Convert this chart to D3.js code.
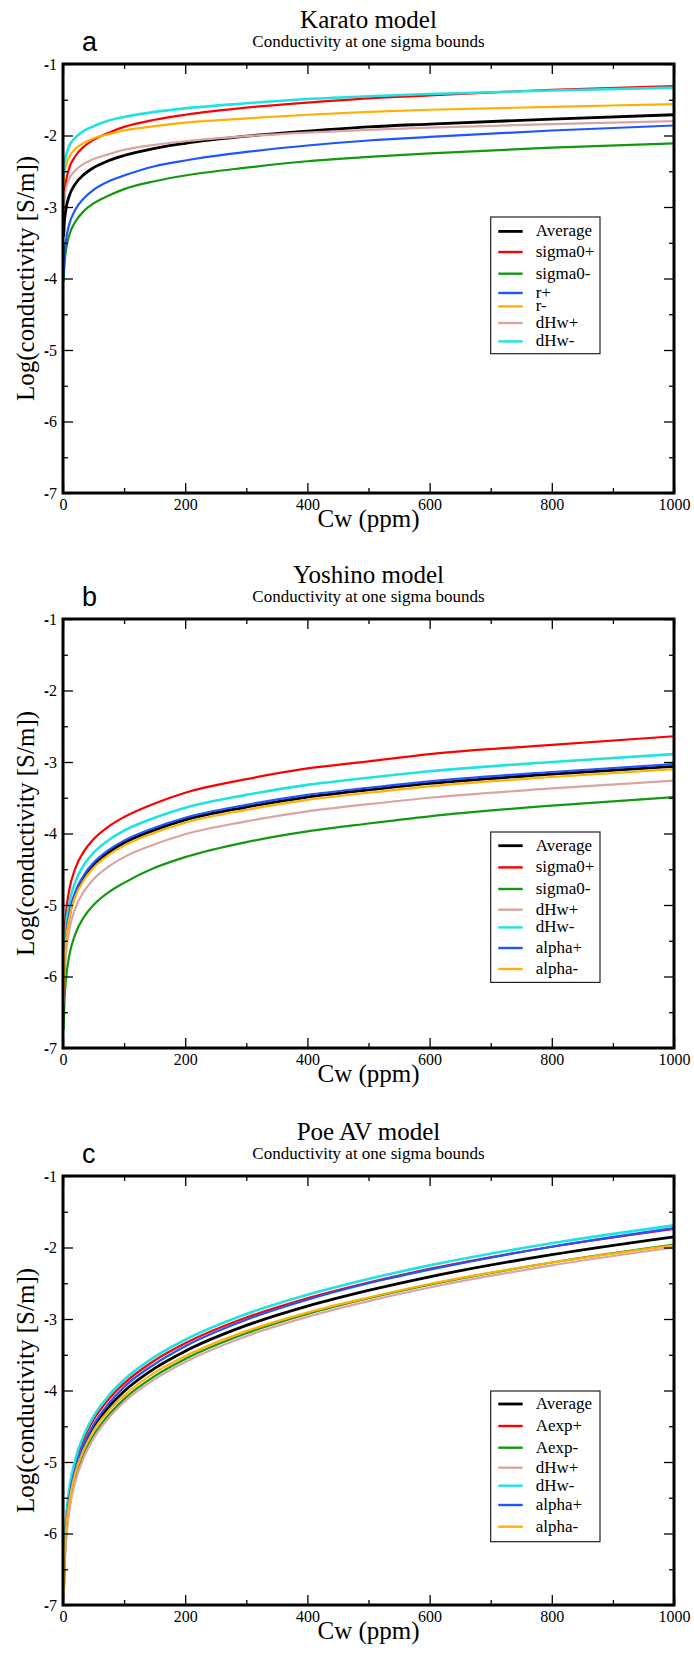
<!DOCTYPE html>
<html><head><meta charset="utf-8">
<script src="https://cdn.jsdelivr.net/npm/d3@7"></script>
<style>body{margin:0;background:#fff}</style>
</head><body>
<svg id="chart" width="694" height="1653"></svg>
<script>
// ---------- DATA ----------
const cw = [1, 2, 5, 10, 20, 35, 50, 75, 100, 150, 200, 300, 400, 500, 600, 800, 1000];
const xTicks = [0, 200, 400, 600, 800, 1000];
const xMinorTicks = [100, 300, 500, 700, 900];
const yTicks = [-1, -2, -3, -4, -5, -6, -7];
const yMinorTicks = [-1.5, -2.5, -3.5, -4.5, -5.5, -6.5];
const panelLetters = ["a", "b", "c"];
const panelTitles = ["Karato model", "Yoshino model", "Poe AV model"];
const subtitle = "Conductivity at one sigma bounds";
const xLabel = "Cw (ppm)";
const yLabel = "Log(conductivity [S/m])";

// Karato model
const karatoNames = ["Average", "sigma0+", "sigma0-", "r+", "r-", "dHw+", "dHw-"];
const karatoAverage = [-3.41,-3.24,-3.02,-2.85,-2.68,-2.54,-2.45,-2.35,-2.28,-2.18,-2.11,-2.01,-1.94,-1.88,-1.84,-1.77,-1.71];
const karatoSigma0Plus = [-3.04,-2.86,-2.64,-2.46,-2.29,-2.15,-2.06,-1.96,-1.88,-1.78,-1.71,-1.61,-1.54,-1.48,-1.44,-1.36,-1.31];
const karatoSigma0Minus = [-4.05,-3.86,-3.60,-3.40,-3.21,-3.05,-2.95,-2.84,-2.75,-2.64,-2.56,-2.45,-2.36,-2.30,-2.25,-2.17,-2.11];
const karatoRPlus = [-3.94,-3.73,-3.46,-3.25,-3.04,-2.87,-2.76,-2.64,-2.56,-2.43,-2.35,-2.23,-2.14,-2.07,-2.02,-1.93,-1.86];
const karatoRMinus = [-2.68,-2.56,-2.42,-2.30,-2.19,-2.10,-2.04,-1.98,-1.93,-1.87,-1.82,-1.76,-1.71,-1.67,-1.64,-1.60,-1.56];
const karatoDHwPlus = [-3.02,-2.90,-2.74,-2.61,-2.49,-2.39,-2.33,-2.26,-2.20,-2.13,-2.08,-2.01,-1.96,-1.92,-1.89,-1.84,-1.80];
const karatoDHwMinus = [-2.57,-2.44,-2.28,-2.15,-2.03,-1.93,-1.87,-1.79,-1.74,-1.67,-1.62,-1.55,-1.49,-1.45,-1.42,-1.37,-1.33];

// Yoshino model
const yoshinoNames = ["Average", "sigma0+", "sigma0-", "dHw+", "dHw-", "alpha+", "alpha-"];
const yoshinoAverage = [-6.18,-5.87,-5.47,-5.16,-4.85,-4.60,-4.44,-4.26,-4.13,-3.95,-3.81,-3.63,-3.49,-3.39,-3.30,-3.17,-3.06];
const yoshinoSigma0Plus = [-5.82,-5.51,-5.11,-4.80,-4.49,-4.24,-4.08,-3.90,-3.77,-3.58,-3.43,-3.24,-3.09,-2.99,-2.89,-2.76,-2.64];
const yoshinoSigma0Minus = [-6.74,-6.43,-6.03,-5.72,-5.41,-5.16,-5.00,-4.82,-4.69,-4.48,-4.33,-4.12,-3.97,-3.86,-3.76,-3.61,-3.49];
const yoshinoDHwPlus = [-6.38,-6.07,-5.67,-5.36,-5.05,-4.80,-4.64,-4.46,-4.33,-4.15,-4.01,-3.83,-3.69,-3.59,-3.50,-3.37,-3.26];
const yoshinoDHwMinus = [-6.01,-5.70,-5.30,-4.99,-4.68,-4.43,-4.27,-4.09,-3.96,-3.78,-3.64,-3.46,-3.32,-3.22,-3.13,-3.00,-2.89];
const yoshinoAlphaPlus = [-6.15,-5.84,-5.44,-5.13,-4.82,-4.57,-4.41,-4.23,-4.10,-3.92,-3.78,-3.60,-3.46,-3.36,-3.27,-3.14,-3.03];
const yoshinoAlphaMinus = [-6.22,-5.91,-5.51,-5.20,-4.89,-4.64,-4.48,-4.30,-4.17,-3.99,-3.85,-3.67,-3.53,-3.43,-3.34,-3.21,-3.10];

// Poe AV model
const poeNames = ["Average", "Aexp+", "Aexp-", "dHw+", "dHw-", "alpha+", "alpha-"];
const poeAverage = [-6.80,-6.45,-5.95,-5.55,-5.13,-4.77,-4.52,-4.23,-4.01,-3.69,-3.45,-3.09,-2.82,-2.60,-2.41,-2.10,-1.85];
const poeAexpPlus = [-6.69,-6.34,-5.84,-5.44,-5.02,-4.66,-4.41,-4.12,-3.90,-3.58,-3.34,-2.98,-2.71,-2.49,-2.30,-1.99,-1.74];
const poeAexpMinus = [-6.91,-6.56,-6.06,-5.66,-5.24,-4.88,-4.63,-4.34,-4.12,-3.80,-3.56,-3.20,-2.93,-2.71,-2.52,-2.21,-1.96];
const poeDHwPlus = [-6.95,-6.60,-6.10,-5.70,-5.28,-4.92,-4.67,-4.38,-4.16,-3.84,-3.60,-3.24,-2.97,-2.75,-2.56,-2.25,-2.00];
const poeDHwMinus = [-6.64,-6.29,-5.79,-5.39,-4.97,-4.61,-4.36,-4.07,-3.85,-3.53,-3.29,-2.93,-2.66,-2.44,-2.25,-1.94,-1.69];
const poeAlphaPlus = [-6.79,-6.44,-5.93,-5.52,-5.10,-4.73,-4.48,-4.18,-3.95,-3.63,-3.38,-3.01,-2.73,-2.50,-2.31,-1.99,-1.73];
const poeAlphaMinus = [-6.81,-6.47,-5.97,-5.58,-5.16,-4.81,-4.56,-4.28,-4.07,-3.75,-3.52,-3.17,-2.91,-2.70,-2.51,-2.21,-1.97];

// ---------- STYLE / LAYOUT ----------
const C = {black:"#000000", red:"#ff0000", green:"#12990f", blue:"#1f55ff", orange:"#ffb000", pink:"#d9a4a4", cyan:"#1fe3e3"};
const panels = [
  {names: karatoNames,
   values: [karatoAverage, karatoSigma0Plus, karatoSigma0Minus, karatoRPlus, karatoRMinus, karatoDHwPlus, karatoDHwMinus],
   colors: [C.black, C.red, C.green, C.blue, C.orange, C.pink, C.cyan],
   legendOffset: 153, legendRows: [14.4, 35, 56.7, 76, 89.4, 106, 124.4], legendH: 136.7},
  {names: yoshinoNames,
   values: [yoshinoAverage, yoshinoSigma0Plus, yoshinoSigma0Minus, yoshinoDHwPlus, yoshinoDHwMinus, yoshinoAlphaPlus, yoshinoAlphaMinus],
   colors: [C.black, C.red, C.green, C.pink, C.cyan, C.blue, C.orange],
   legendOffset: 213, legendRows: [13.7, 35.4, 57, 77.7, 95.4, 116, 137], legendH: 150.4},
  {names: poeNames,
   values: [poeAverage, poeAexpPlus, poeAexpMinus, poeDHwPlus, poeDHwMinus, poeAlphaPlus, poeAlphaMinus],
   colors: [C.black, C.red, C.green, C.pink, C.cyan, C.blue, C.orange],
   legendOffset: 215, legendRows: [13, 35, 56.7, 76.7, 94.7, 114, 135.7], legendH: 150.7}
];
const left = 63, right = 674, tops = [64, 619, 1176], plotH = 429;
const serif = "'Liberation Serif','Times New Roman',Times,serif";
const sans = "'Liberation Sans',Arial,Helvetica,sans-serif";

const svg = d3.select("#chart");
svg.append("rect").attr("width",694).attr("height",1653).attr("fill","#fff");

panels.forEach((p, i) => {
  const top = tops[i], bottom = top + plotH;
  const cx = (left + right) / 2;
  const x = d3.scaleLinear().domain([0, 1000]).range([left, right]);
  const y = d3.scaleLinear().domain([-7, -1]).range([bottom, top]);
  const g = svg.append("g");

  g.append("clipPath").attr("id", "clip" + i).append("rect")
    .attr("x", left).attr("y", top).attr("width", right - left).attr("height", plotH);

  const line = d3.line().x((d, j) => x(cw[j])).y(d => y(d)).curve(d3.curveMonotoneX);
  const lines = g.append("g").attr("clip-path", `url(#clip${i})`);
  p.values.forEach((vals, k) => {
    lines.append("path").attr("d", line(vals)).attr("fill", "none")
      .attr("stroke", p.colors[k]).attr("stroke-width", k === 0 ? 2.8 : (p.colors[k] === C.cyan ? 2.6 : 2.2))
      .attr("stroke-linejoin", "round");
  });

  // axes (ticks inward)
  const styleAxis = a => { a.select(".domain").remove(); a.selectAll(".tick line").attr("stroke","#000").attr("stroke-width",1.3); };
  const bAx = g.append("g").attr("transform", `translate(0,${bottom})`)
    .call(d3.axisBottom(x).tickValues(xTicks).tickSize(-10).tickPadding(6).tickFormat(d3.format("d"))).call(styleAxis);
  bAx.attr("font-family", serif).attr("font-size", 16);
  bAx.selectAll(".tick text").attr("fill", "#000");
  g.append("g").attr("transform", `translate(0,${bottom})`)
    .call(d3.axisBottom(x).tickValues(xMinorTicks).tickSize(-5).tickFormat("")).call(styleAxis);
  g.append("g").attr("transform", `translate(0,${top})`)
    .call(d3.axisTop(x).tickValues(xTicks).tickSize(-10).tickFormat("")).call(styleAxis);
  g.append("g").attr("transform", `translate(0,${top})`)
    .call(d3.axisTop(x).tickValues(xMinorTicks).tickSize(-5).tickFormat("")).call(styleAxis);

  const lAx = g.append("g").attr("transform", `translate(${left},0)`)
    .call(d3.axisLeft(y).tickValues(yTicks).tickSize(-10).tickPadding(6)).call(styleAxis);
  lAx.attr("font-family", serif).attr("font-size", 16);
  lAx.selectAll(".tick text").attr("fill", "#000").each(function(d) {
    const t = d3.select(this); t.text(null);
    t.append("tspan").attr("font-family", sans).attr("font-weight", "bold").attr("font-size", 15).text("-");
    t.append("tspan").text(Math.abs(d));
  });
  g.append("g").attr("transform", `translate(${left},0)`)
    .call(d3.axisLeft(y).tickValues(yMinorTicks).tickSize(-5).tickFormat("")).call(styleAxis);
  g.append("g").attr("transform", `translate(${right},0)`)
    .call(d3.axisRight(y).tickValues(yTicks).tickSize(-10).tickFormat("")).call(styleAxis);
  g.append("g").attr("transform", `translate(${right},0)`)
    .call(d3.axisRight(y).tickValues(yMinorTicks).tickSize(-5).tickFormat("")).call(styleAxis);

  // frame
  g.append("rect").attr("x", left).attr("y", top).attr("width", right - left).attr("height", plotH)
    .attr("fill", "none").attr("stroke", "#000").attr("stroke-width", 3);

  // titles
  g.append("text").attr("x", cx).attr("y", top - 36).attr("text-anchor", "middle")
    .attr("font-family", serif).attr("font-size", 25).text(panelTitles[i]);
  g.append("text").attr("x", cx).attr("y", top - 17).attr("text-anchor", "middle")
    .attr("font-family", serif).attr("font-size", 17).text(subtitle);
  g.append("text").attr("x", 82).attr("y", top - 13)
    .attr("font-family", sans).attr("font-size", 27).text(panelLetters[i]);
  g.append("text").attr("x", cx).attr("y", bottom + 34).attr("text-anchor", "middle")
    .attr("font-family", serif).attr("font-size", 25).text(xLabel);
  g.append("text").attr("transform", `translate(34,${(top + bottom) / 2}) rotate(-90)`).attr("text-anchor", "middle")
    .attr("font-family", serif).attr("font-size", 25).text(yLabel);

  // legend
  const lgTop = top + p.legendOffset;
  const lg = g.append("g");
  lg.append("rect").attr("x", 490.7).attr("y", lgTop).attr("width", 109.3).attr("height", p.legendH)
    .attr("fill", "#fff").attr("stroke", "#222").attr("stroke-width", 1.2);
  p.names.forEach((n, k) => {
    const ry = lgTop + p.legendRows[k];
    lg.append("line").attr("x1", 498.3).attr("x2", 522.7).attr("y1", ry).attr("y2", ry)
      .attr("stroke", p.colors[k]).attr("stroke-width", k === 0 ? 2.8 : 2.4);
    lg.append("text").attr("x", 535.7).attr("y", ry + 5).attr("font-family", serif).attr("font-size", 17).text(n);
  });
});
</script>
</body></html>
